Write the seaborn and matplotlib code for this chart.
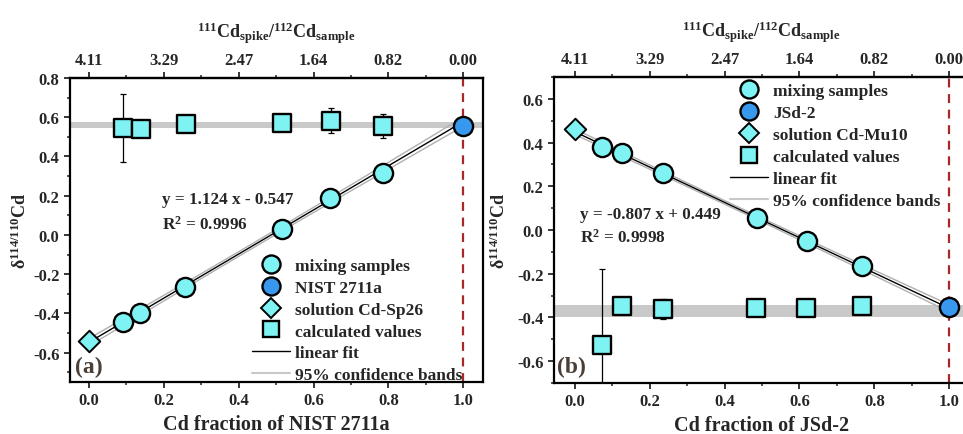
import numpy as np
import matplotlib
matplotlib.use("Agg")
import matplotlib.pyplot as plt
import seaborn as sns
from matplotlib.lines import Line2D
from matplotlib.ticker import MultipleLocator

# ---------------- data ----------------
# panel (a)
a_mix_x = [0.091, 0.136, 0.257, 0.515, 0.645, 0.785]
a_mix_y = [-0.443, -0.400, -0.265, 0.030, 0.186, 0.317]
a_ref_x = [1.0]
a_ref_y = [0.553]
a_sol_x = [0.0]
a_sol_y = [-0.540]
a_calc_x = [0.091, 0.138, 0.258, 0.515, 0.648, 0.785]
a_calc_y = [0.545, 0.540, 0.567, 0.572, 0.583, 0.556]
a_calc_err = [0.173, 0.020, 0.015, 0.015, 0.065, 0.062]
a_band = [0.545, 0.575]
a_slope, a_intercept = 1.124, -0.547
a_eq = "y = 1.124 x - 0.547"
a_r2 = "R$^{2}$ = 0.9996"
a_labels = ["mixing samples", "NIST 2711a", "solution Cd-Sp26", "calculated values",
            "linear fit", "95% confidence bands"]

# panel (b)
b_mix_x = [0.072, 0.127, 0.234, 0.486, 0.619, 0.768]
b_mix_y = [0.378, 0.352, 0.260, 0.055, -0.049, -0.163]
b_ref_x = [1.0]
b_ref_y = [-0.352]
b_sol_x = [0.0]
b_sol_y = [0.464]
b_calc_x = [0.072, 0.127, 0.236, 0.485, 0.617, 0.767]
b_calc_y = [-0.524, -0.346, -0.361, -0.358, -0.358, -0.346]
b_calc_err = [0.346, 0.020, 0.045, 0.010, 0.020, 0.010]
b_band = [-0.400, -0.345]
b_slope, b_intercept = -0.807, 0.449
b_eq = "y = -0.807 x + 0.449"
b_r2 = "R$^{2}$ = 0.9998"
b_labels = ["mixing samples", "JSd-2", "solution Cd-Mu10", "calculated values",
            "linear fit", "95% confidence bands"]

top_ticks = [0.0, 0.2, 0.4, 0.6, 0.8, 1.0]
top_labels = ["4.11", "3.29", "2.47", "1.64", "0.82", "0.00"]
t_value = 2.447  # df = 6

# ---------------- style ----------------
sns.set_theme(style="ticks")
plt.rcParams["font.family"] = ["Liberation Serif", "DejaVu Serif"]
plt.rcParams["font.weight"] = "bold"
plt.rcParams["axes.labelweight"] = "bold"
plt.rcParams["mathtext.fontset"] = "custom"
plt.rcParams["mathtext.rm"] = "Liberation Serif:bold"
plt.rcParams["mathtext.it"] = "Liberation Serif:bold"
plt.rcParams["mathtext.bf"] = "Liberation Serif:bold"
plt.rcParams["axes.unicode_minus"] = False

CYAN = "#7ff3f3"
BLUE = "#3798ee"
RED = "#a82828"
BAND = "#c9c9c9"
LBL = "#4a3e36"

fig = plt.figure(figsize=(9.63, 4.35), dpi=100)
ax1 = fig.add_axes([70 / 963, 52 / 435, 413 / 963, 304 / 435])
ax2 = fig.add_axes([554 / 963, 51 / 435, 415 / 963, 306 / 435])


def conf_band(xs, ys, xf, slope, intercept):
    xs = np.asarray(xs)
    ys = np.asarray(ys)
    n = len(xs)
    res = ys - (slope * xs + intercept)
    s = np.sqrt(np.sum(res ** 2) / (n - 2))
    xm = xs.mean()
    sxx = np.sum((xs - xm) ** 2)
    se = s * np.sqrt(1.0 / n + (xf - xm) ** 2 / sxx)
    yf = slope * xf + intercept
    return yf - t_value * se, yf + t_value * se


def panel(ax, mix_x, mix_y, ref_x, ref_y, sol_x, sol_y, calc_x, calc_y, calc_err,
          band, slope, intercept, eq, r2, labels, xlim, ylim, yticks, tag,
          eq_pos, r2_pos, tag_pos, leg_loc, leg_anchor, ylabelpad):
    ax.set_xlim(*xlim)
    ax.set_ylim(*ylim)
    ax.axhspan(band[0], band[1], color=BAND, lw=0, zorder=0)
    ax.axvline(1.0, color=RED, lw=1.6, ls=(0, (4, 3)), zorder=1)

    xf = np.linspace(0.0, 1.0, 200)
    all_x = list(sol_x) + list(mix_x) + list(ref_x)
    all_y = list(sol_y) + list(mix_y) + list(ref_y)
    lo, hi = conf_band(all_x, all_y, xf, slope, intercept)
    sns.lineplot(x=xf, y=lo, color="#b0b0b0", lw=1.0, ax=ax, zorder=2)
    sns.lineplot(x=xf, y=hi, color="#b0b0b0", lw=1.0, ax=ax, zorder=2)
    sns.lineplot(x=xf, y=slope * xf + intercept, color="black", lw=1.0, ax=ax, zorder=3)

    ax.errorbar(calc_x, calc_y, yerr=calc_err, fmt="none", ecolor="black",
                elinewidth=0.9, capsize=2.5, capthick=0.9, zorder=4)
    sns.scatterplot(x=calc_x, y=calc_y, marker="s", s=150, color=CYAN,
                    edgecolor="black", linewidth=1.7, ax=ax, zorder=5)
    sns.scatterplot(x=mix_x, y=mix_y, marker="o", s=190, color=CYAN,
                    edgecolor="black", linewidth=1.7, ax=ax, zorder=6)
    sns.scatterplot(x=sol_x, y=sol_y, marker="D", s=120, color=CYAN,
                    edgecolor="black", linewidth=1.4, ax=ax, zorder=6)
    sns.scatterplot(x=ref_x, y=ref_y, marker="o", s=190, color=BLUE,
                    edgecolor="black", linewidth=1.7, ax=ax, zorder=7, clip_on=False)

    handles = [
        Line2D([], [], ls="none", marker="o", ms=13, mfc=CYAN, mec="black", mew=1.7),
        Line2D([], [], ls="none", marker="o", ms=13, mfc=BLUE, mec="black", mew=1.7),
        Line2D([], [], ls="none", marker="D", ms=10, mfc=CYAN, mec="black", mew=1.4),
        Line2D([], [], ls="none", marker="s", ms=12, mfc=CYAN, mec="black", mew=1.7),
        Line2D([], [], color="black", lw=1.0),
        Line2D([], [], color="#c8c8c8", lw=1.5),
    ]
    ax.legend(handles, labels, loc=leg_loc, bbox_to_anchor=leg_anchor, frameon=False,
              fontsize=12.5, handlelength=2.2, handletextpad=0.3, labelspacing=0.33,
              borderpad=0.1, borderaxespad=0.0)

    ax.text(eq_pos[0], eq_pos[1], eq, fontsize=12.3, fontweight="bold", va="center",
            ha="left", zorder=8)
    ax.text(r2_pos[0], r2_pos[1], r2, fontsize=12.3, fontweight="bold", va="center",
            ha="left", zorder=8)
    ax.text(tag_pos[0], tag_pos[1], tag, transform=ax.transAxes, fontsize=17,
            fontweight="bold", color=LBL, va="center", ha="left")

    ax.set_xticks(top_ticks)
    ax.set_xticklabels([f"{v:.1f}" for v in top_ticks])
    ax.xaxis.set_minor_locator(MultipleLocator(0.1))
    ax.set_yticks(yticks)
    ax.set_yticklabels([f"{v:.1f}" for v in yticks])
    ax.yaxis.set_minor_locator(MultipleLocator(0.1))
    ax.tick_params(axis="both", which="major", direction="out", length=4.5, width=1.3,
                   labelsize=12, pad=3)
    ax.tick_params(axis="both", which="minor", direction="out", length=2.5, width=1.1)
    for sp in ax.spines.values():
        sp.set_visible(True)
        sp.set_linewidth(1.6)
        sp.set_color("black")

    sec = ax.secondary_xaxis("top")
    sec.set_xticks(top_ticks)
    sec.set_xticklabels(top_labels)
    sec.xaxis.set_minor_locator(MultipleLocator(0.1))
    sec.tick_params(axis="x", which="major", direction="out", length=4.5, width=1.3,
                    labelsize=12, pad=3)
    sec.tick_params(axis="x", which="minor", direction="out", length=2.5, width=1.1)
    sec.spines["top"].set_linewidth(1.6)
    sec.set_xlabel(r"$^{111}$Cd$_{\mathrm{spike}}$/$^{112}$Cd$_{\mathrm{sample}}$",
                   fontsize=13, fontweight="bold", labelpad=10)

    ax.set_ylabel(r"δ$^{114/110}$Cd", fontsize=13, fontweight="bold", labelpad=ylabelpad)


panel(ax1, a_mix_x, a_mix_y, a_ref_x, a_ref_y, a_sol_x, a_sol_y, a_calc_x, a_calc_y,
      a_calc_err, a_band, a_slope, a_intercept, a_eq, a_r2, a_labels,
      xlim=(-0.051, 1.053), ylim=(-0.75, 0.8),
      yticks=[-0.6, -0.4, -0.2, 0.0, 0.2, 0.4, 0.6, 0.8], tag="(a)",
      eq_pos=(0.195, 0.183), r2_pos=(0.195, 0.058), tag_pos=(0.012, 0.05),
      leg_loc="lower right", leg_anchor=(0.955, -0.01), ylabelpad=2)
ax1.set_xlabel("Cd fraction of NIST 2711a", fontsize=14.5, fontweight="bold", labelpad=4)

panel(ax2, b_mix_x, b_mix_y, b_ref_x, b_ref_y, b_sol_x, b_sol_y, b_calc_x, b_calc_y,
      b_calc_err, b_band, b_slope, b_intercept, b_eq, b_r2, b_labels,
      xlim=(-0.056, 1.053), ylim=(-0.7, 0.7),
      yticks=[-0.6, -0.4, -0.2, 0.0, 0.2, 0.4, 0.6], tag="(b)",
      eq_pos=(0.013, 0.073), r2_pos=(0.013, -0.030), tag_pos=(0.008, 0.055),
      leg_loc="upper right", leg_anchor=(0.935, 0.985), ylabelpad=6)
ax2.set_xlabel("Cd fraction of JSd-2", fontsize=14.5, fontweight="bold", labelpad=4)

fig.savefig("out.png", dpi=100)
